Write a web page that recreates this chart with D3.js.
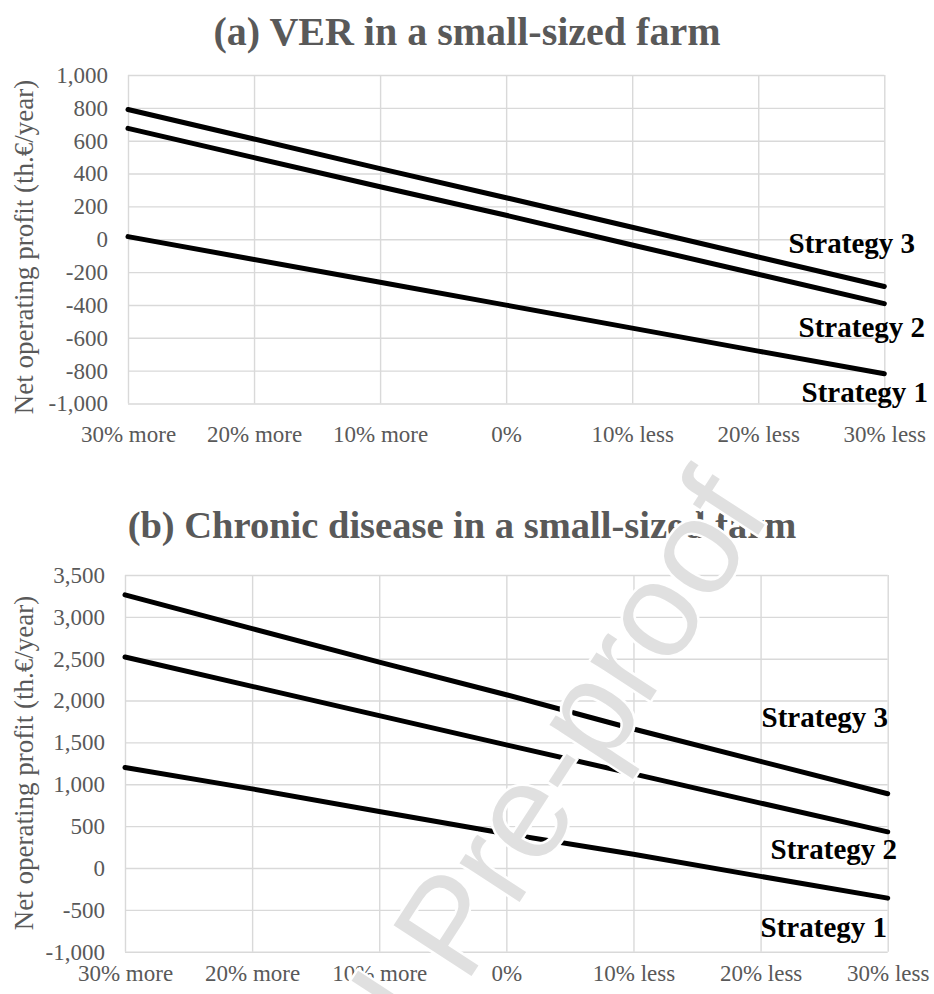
<!DOCTYPE html>
<html>
<head>
<meta charset="utf-8">
<script src="https://cdn.jsdelivr.net/npm/d3@7"></script>
<style>
  body { margin: 0; background: #ffffff; }
  svg { display: block; }
  text { font-family: "Liberation Serif", "Times New Roman", serif; }
</style>
</head>
<body>
<div id="chart"></div>
<script>
// categories on the x axis (price change scenarios)
var categories = ["30% more", "20% more", "10% more", "0%", "10% less", "20% less", "30% less"];
var seriesNames = ["Strategy 1", "Strategy 2", "Strategy 3"];

// (a) VER in a small-sized farm, th.€/year
var verStrategy1 = [16, -123, -262, -401, -541, -681, -819];
var verStrategy2 = [675, 497, 320, 146, -35, -213, -392];
var verStrategy3 = [790, 610, 430, 253, 73, -108, -288];
var verTicks = [-1000, -800, -600, -400, -200, 0, 200, 400, 600, 800, 1000];

// (b) Chronic disease in a small-sized farm, th.€/year
var chronicStrategy1 = [1200, 945, 675, 410, 165, -100, -360];
var chronicStrategy2 = [2520, 2170, 1820, 1470, 1125, 775, 432];
var chronicStrategy3 = [3262, 2860, 2460, 2070, 1660, 1273, 887];
var chronicTicks = [-1000, -500, 0, 500, 1000, 1500, 2000, 2500, 3000, 3500];

var width = 934,
    height = 994,
    gridColor = "#d9d9d9",
    textColor = "#595959";

var fmt = d3.formatLocale({ decimal: ".", thousands: ",", grouping: [3], currency: ["", ""], minus: "-" }).format(",");

var svg = d3.select("#chart").append("svg")
    .attr("width", width)
    .attr("height", height);

svg.append("rect").attr("width", width).attr("height", height).attr("fill", "#ffffff");

function drawPanel(opts) {
    var g = svg.append("g");

    var x = d3.scalePoint().domain(categories).range([opts.left, opts.right]).padding(0);
    var y = d3.scaleLinear().domain([opts.ticks[0], opts.ticks[opts.ticks.length - 1]])
        .range([opts.bottom, opts.top]);

    // title
    g.append("text")
        .attr("x", opts.titleX)
        .attr("y", opts.titleY)
        .attr("text-anchor", "middle")
        .attr("font-size", opts.titleSize)
        .attr("font-weight", "bold")
        .attr("fill", textColor)
        .text(opts.title);

    // horizontal gridlines + value labels
    var yAxis = g.append("g")
        .attr("transform", "translate(" + opts.left + ",0)")
        .call(d3.axisLeft(y).tickValues(opts.ticks).tickFormat(fmt)
            .tickSize(-(opts.right - opts.left)).tickPadding(20));
    yAxis.select(".domain").remove();
    yAxis.selectAll(".tick line").attr("stroke", gridColor).attr("stroke-width", 1.4);
    yAxis.selectAll(".tick text")
        .attr("fill", textColor)
        .attr("font-size", 23);

    // vertical gridlines + category labels
    var xAxis = g.append("g")
        .attr("transform", "translate(0," + opts.bottom + ")")
        .call(d3.axisBottom(x).tickSize(-(opts.bottom - opts.top)));
    xAxis.select(".domain").remove();
    xAxis.selectAll(".tick line").attr("stroke", gridColor).attr("stroke-width", 1.4);
    xAxis.selectAll(".tick text")
        .attr("y", opts.xLabelOffset)
        .attr("dy", 0)
        .attr("fill", textColor)
        .attr("font-size", 23);

    // y axis title
    g.append("text")
        .attr("transform", "translate(" + 33 + "," + opts.yTitleY + ") rotate(-90)")
        .attr("text-anchor", "middle")
        .attr("font-size", 27)
        .attr("fill", textColor)
        .text("Net operating profit (th.€/year)");

    var line = d3.line()
        .x(function (d, i) { return x(categories[i]); })
        .y(function (d) { return y(d); });

    g.selectAll("path.series")
        .data(opts.series)
        .enter().append("path")
        .attr("class", "series")
        .attr("d", line)
        .attr("fill", "none")
        .attr("stroke", "#000000")
        .attr("stroke-width", 5)
        .attr("stroke-linecap", "round");

    // series labels next to the line ends
    g.selectAll("text.label")
        .data(opts.labels)
        .enter().append("text")
        .attr("class", "label")
        .attr("x", function (d) { return opts.right + d.dx; })
        .attr("y", function (d) { return y(d.v); })
        .attr("text-anchor", "end")
        .attr("font-size", 29)
        .attr("font-weight", "bold")
        .attr("fill", "#000000")
        .text(function (d, i) { return seriesNames[i]; });
}

drawPanel({
    title: "(a) VER in a small-sized farm",
    titleX: 467, titleY: 45, titleSize: 40,
    left: 128, right: 884.3, top: 75, bottom: 403.5,
    ticks: verTicks,
    xLabelOffset: 38,
    yTitleY: 247,
    series: [verStrategy1, verStrategy2, verStrategy3],
    labels: [{ dx: 43.7, v: -989 }, { dx: 40.7, v: -594 }, { dx: 30.7, v: -83 }]
});

drawPanel({
    title: "(b) Chronic disease in a small-sized farm",
    titleX: 462, titleY: 538, titleSize: 38.5,
    left: 125, right: 887.7, top: 575, bottom: 951.7,
    ticks: chronicTicks,
    xLabelOffset: 29,
    yTitleY: 763,
    series: [chronicStrategy1, chronicStrategy2, chronicStrategy3],
    labels: [{ dx: -0.7, v: -821 }, { dx: 9.3, v: 111 }, { dx: 0.3, v: 1688 }]
});

// watermark of the source document
svg.append("text")
    .attr("transform", "translate(204,1388) rotate(-57)")
    .style("font-family", "'Liberation Sans', Arial, sans-serif")
    .attr("font-size", 135)
    .attr("fill", "#e0e0e0")
    .attr("stroke", "#ffffff")
    .attr("stroke-width", 5)
    .attr("paint-order", "stroke")
    .text("Journal Pre-proof");
</script>
</body>
</html>
